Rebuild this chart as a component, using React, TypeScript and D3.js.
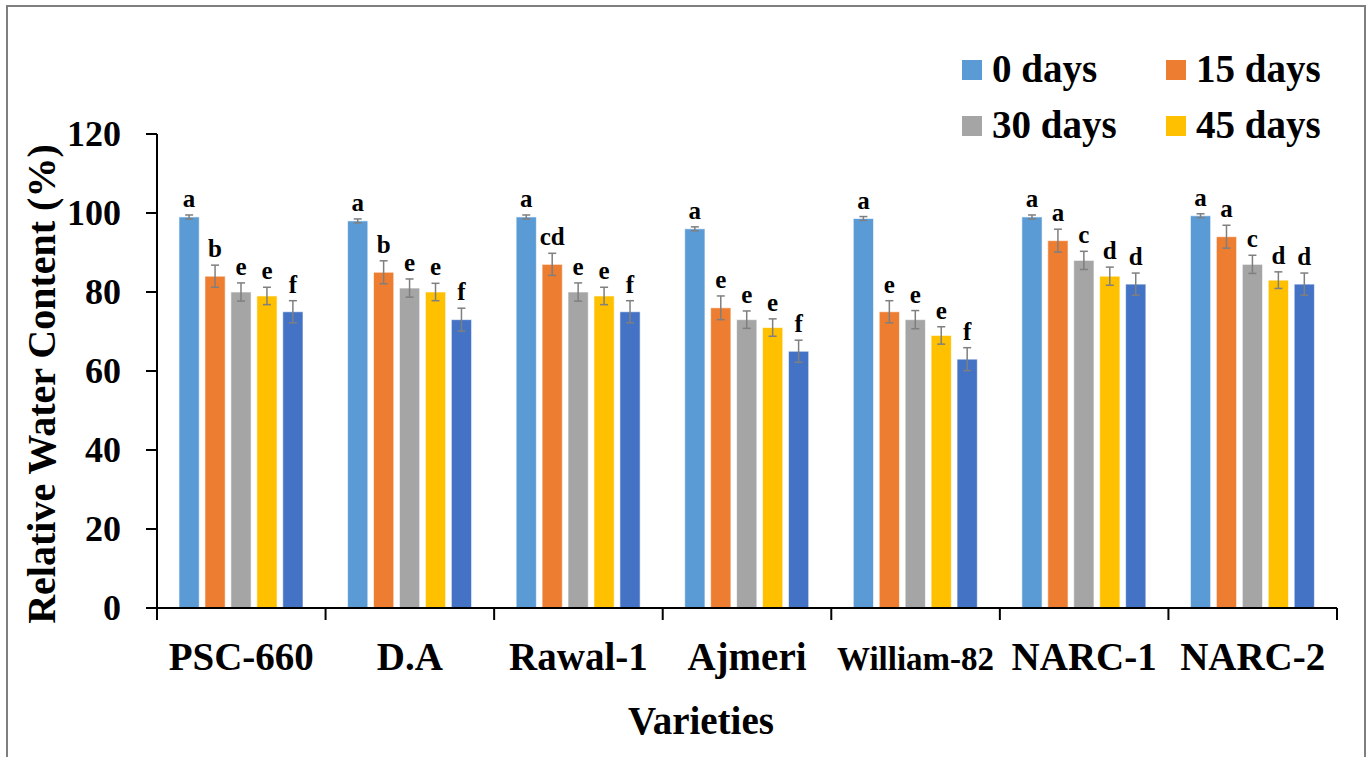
import React from 'react'
import * as d3 from 'd3'

const varieties = ['PSC-660', 'D.A', 'Rawal-1', 'Ajmeri', 'William-82', 'NARC-1', 'NARC-2']
const seriesNames = ['0 days', '15 days', '30 days', '45 days', '60 days']
const legendNames = ['0 days', '15 days', '30 days', '45 days']
const colors = ['#5B9BD5', '#ED7D31', '#A5A5A5', '#FFC000', '#4472C4']
const yTicks = [0, 20, 40, 60, 80, 100, 120]

const days0 = [99, 98, 99, 96, 98.6, 99, 99.3]
const days15 = [84, 85, 87, 76, 75, 93, 94]
const days30 = [80, 81, 80, 73, 73, 88, 87]
const days45 = [79, 80, 79, 71, 69, 84, 83]
const days60 = [75, 73, 75, 65, 63, 82, 82]

const err0 = [0.5, 0.5, 0.5, 0.5, 0.5, 0.5, 0.5]
const err15 = [2.8, 2.9, 2.8, 3.0, 2.8, 2.9, 2.9]
const err30 = [2.3, 2.3, 2.3, 2.2, 2.3, 2.3, 2.3]
const err45 = [2.2, 2.2, 2.2, 2.2, 2.2, 2.3, 2.1]
const err60 = [2.8, 2.9, 2.8, 2.8, 2.9, 2.8, 2.8]

const let0 = ['a', 'a', 'a', 'a', 'a', 'a', 'a']
const let15 = ['b', 'b', 'cd', 'e', 'e', 'a', 'a']
const let30 = ['e', 'e', 'e', 'e', 'e', 'c', 'c']
const let45 = ['e', 'e', 'e', 'e', 'e', 'd', 'd']
const let60 = ['f', 'f', 'f', 'f', 'f', 'd', 'd']

const values = [days0, days15, days30, days45, days60]
const errors = [err0, err15, err30, err45, err60]
const letters = [let0, let15, let30, let45, let60]

const font = 'Liberation Serif, DejaVu Serif, Times New Roman, serif'

export default function App() {
  const width = 1370, height = 757
  const left = 157, right = 1337, top = 134, bottom = 608

  const x0 = d3.scaleBand<string>().domain(varieties).range([left, right]).padding(0)
  const x1 = d3.scaleBand<number>()
    .domain(d3.range(seriesNames.length))
    .range([22, 146])
    .paddingInner(0.22)
    .paddingOuter(0)
  const y = d3.scaleLinear().domain([0, 120]).range([bottom, top])

  const boundaries = varieties.map(v => x0(v)!).concat([right])

  return (
    <svg width={width} height={height}
      style={{ position: 'absolute', left: 0, top: 0, fontFamily: font, fontWeight: 'bold' }}>
      <rect x={0} y={0} width={width} height={height} fill="#fff" />
      <rect x={7} y={6} width={1358} height={760} fill="none" stroke="#7f7f7f" strokeWidth={2} />

      {/* bars */}
      {varieties.map((v, vi) => (
        <g key={v} transform={`translate(${x0(v)},0)`}>
          {seriesNames.map((s, si) => {
            const val = values[si][vi]
            const e = errors[si][vi]
            const bx = x1(si)!
            const bw = x1.bandwidth()
            const cx = bx + bw / 2
            const errTop = y(val + e)
            return (
              <g key={s}>
                <rect x={bx} y={y(val)} width={bw} height={bottom - y(val)}
                  fill={colors[si]} stroke="#ffffff" strokeOpacity={0.6} strokeWidth={1} />
                <g stroke="#7f7f7f" strokeWidth={1.5}>
                  <line x1={cx} x2={cx} y1={y(val + e)} y2={y(val - e)} />
                  <line x1={cx - 4} x2={cx + 4} y1={y(val + e)} y2={y(val + e)} />
                  <line x1={cx - 4} x2={cx + 4} y1={y(val - e)} y2={y(val - e)} />
                </g>
                <text x={cx} y={errTop - 8} textAnchor="middle" fontSize={25} fill="#000">
                  {letters[si][vi]}
                </text>
              </g>
            )
          })}
        </g>
      ))}

      {/* y axis */}
      <line x1={left} x2={left} y1={top} y2={bottom + 12} stroke="#000" strokeWidth={2} />
      {yTicks.map(t => (
        <g key={t}>
          <line x1={left - 11} x2={left} y1={y(t)} y2={y(t)} stroke="#000" strokeWidth={2} />
          <text x={121} y={y(t)} dy="0.33em" textAnchor="end" fontSize={36} fill="#000">{t}</text>
        </g>
      ))}

      {/* x axis */}
      <line x1={left} x2={right} y1={bottom} y2={bottom} stroke="#000" strokeWidth={2} />
      {boundaries.map((b, i) => (
        <line key={i} x1={b} x2={b} y1={bottom} y2={bottom + 12} stroke="#000" strokeWidth={2} />
      ))}
      {varieties.map(v => (
        <text key={v} x={x0(v)! + x0.bandwidth() / 2} y={670} textAnchor="middle"
          fontSize={v === 'William-82' ? 33 : 39} fill="#000">{v}</text>
      ))}

      {/* axis titles */}
      <text x={701} y={734} textAnchor="middle" fontSize={39} fill="#000">Varieties</text>
      <text transform="translate(55,384) rotate(-90)" textAnchor="middle" fontSize={40} fill="#000">
        Relative Water Content (%)
      </text>

      {/* legend */}
      {legendNames.map((n, i) => {
        const lx = i % 2 === 0 ? 962 : 1166
        const ly = i < 2 ? 60 : 116
        return (
          <g key={n}>
            <rect x={lx} y={ly} width={20} height={20} fill={colors[i]} />
            <text x={lx + 30} y={ly + 22} fontSize={39} fill="#000">{n}</text>
          </g>
        )
      })}
    </svg>
  )
}
